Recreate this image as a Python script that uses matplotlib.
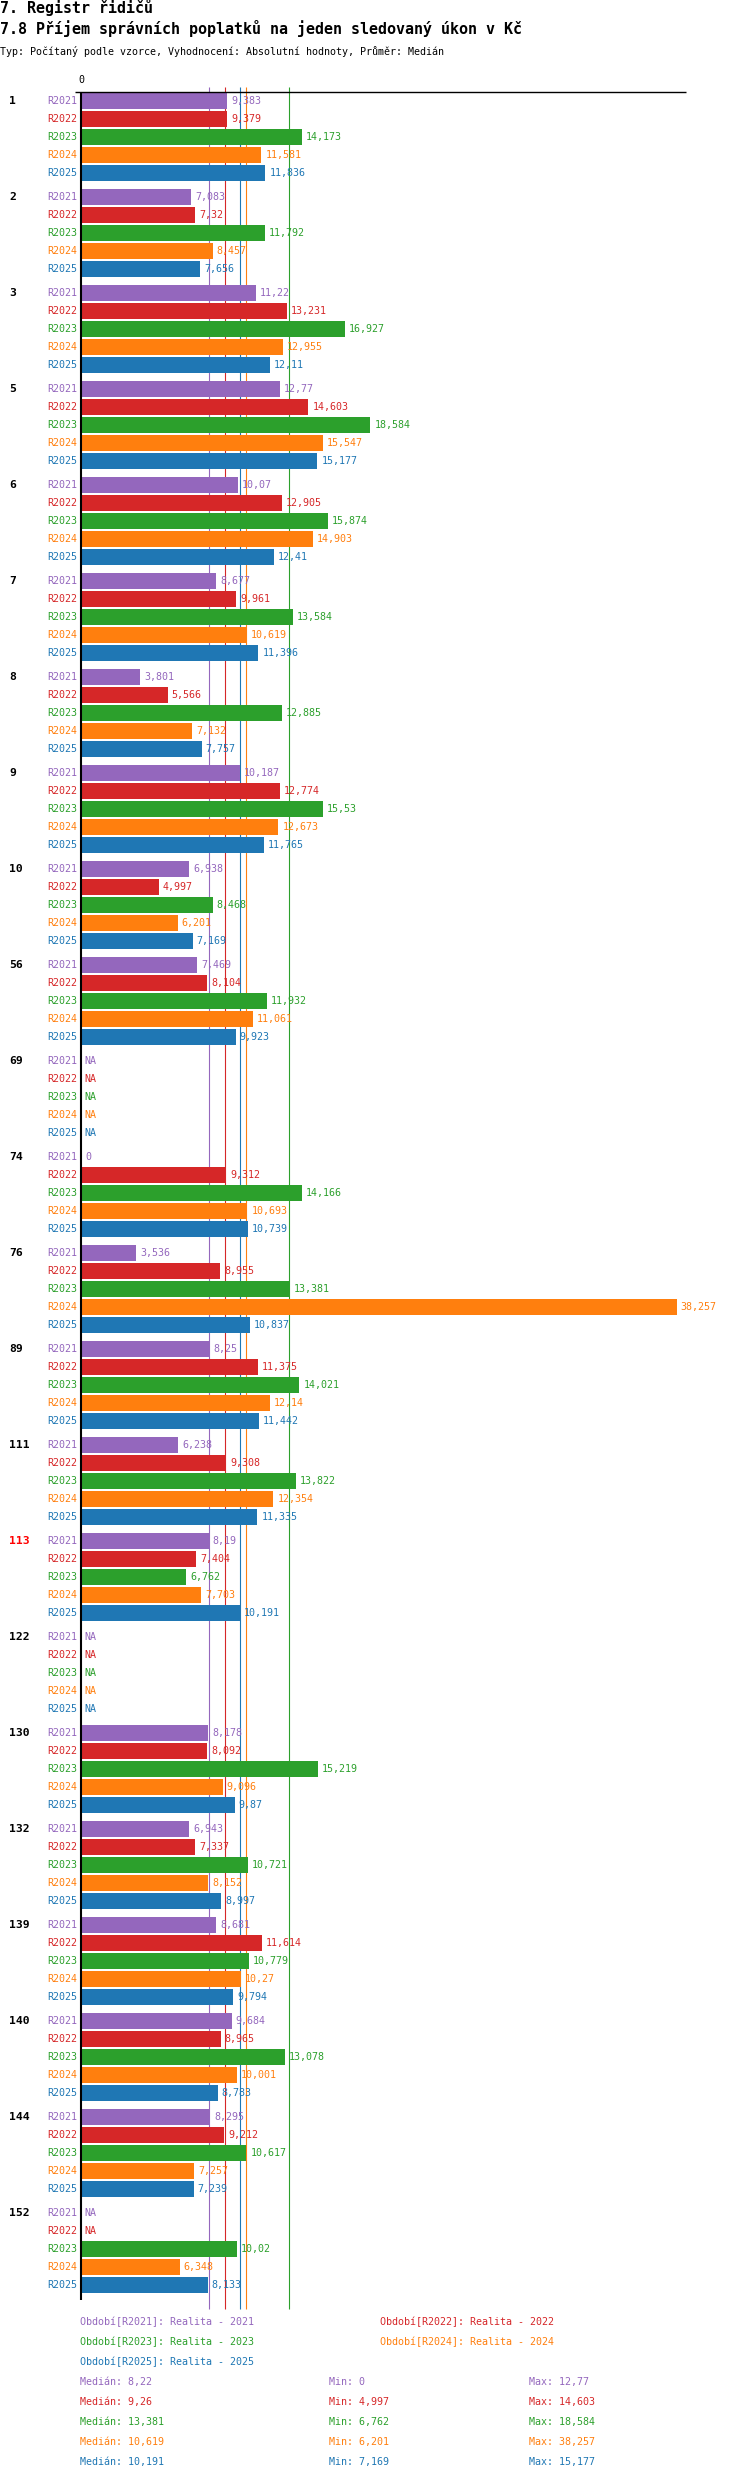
import matplotlib
matplotlib.use('Agg')
import matplotlib.pyplot as plt
import matplotlib.transforms as mtransforms
import numpy as np

# ---------------- data ----------------
categories = ['1', '2', '3', '5', '6', '7', '8', '9', '10', '56', '69', '74', '76',
              '89', '111', '113', '122', '130', '132', '139', '140', '144', '152']
highlight = '113'
series = ['R2021', 'R2022', 'R2023', 'R2024', 'R2025']
series_names = ['Realita - 2021', 'Realita - 2022', 'Realita - 2023',
                'Realita - 2024', 'Realita - 2025']
colors = ['#9467bd', '#d62728', '#2ca02c', '#ff7f0e', '#1f77b4']

r2021 = [9.383, 7.083, 11.22, 12.77, 10.07, 8.677, 3.801, 10.187, 6.938, 7.469, None,
         0, 3.536, 8.25, 6.238, 8.19, None, 8.178, 6.943, 8.681, 9.684, 8.295, None]
r2022 = [9.379, 7.32, 13.231, 14.603, 12.905, 9.961, 5.566, 12.774, 4.997, 8.104, None,
         9.312, 8.955, 11.375, 9.308, 7.404, None, 8.092, 7.337, 11.614, 8.965, 9.212, None]
r2023 = [14.173, 11.792, 16.927, 18.584, 15.874, 13.584, 12.885, 15.53, 8.468, 11.932, None,
         14.166, 13.381, 14.021, 13.822, 6.762, None, 15.219, 10.721, 10.779, 13.078, 10.617, 10.02]
r2024 = [11.581, 8.457, 12.955, 15.547, 14.903, 10.619, 7.132, 12.673, 6.201, 11.061, None,
         10.693, 38.257, 12.14, 12.354, 7.703, None, 9.096, 8.152, 10.27, 10.001, 7.257, 6.348]
r2025 = [11.836, 7.656, 12.11, 15.177, 12.41, 11.396, 7.757, 11.765, 7.169, 9.923, None,
         10.739, 10.837, 11.442, 11.335, 10.191, None, 9.87, 8.997, 9.794, 8.783, 7.239, 8.133]
values = [r2021, r2022, r2023, r2024, r2025]

title1 = '7. Registr řidičů'
title2 = '7.8 Příjem správních poplatků na jeden sledovaný úkon v Kč'
subtitle = 'Typ: Počítaný podle vzorce, Vyhodnocení: Absolutní hodnoty, Průměr: Medián'

# ---------------- layout ----------------
W, H = 750, 2480
FONT = 'DejaVu Sans Mono'
FS = 7.2          # ~10 px
FS_T = 10.8       # ~15 px
PX_PER_UNIT = 15.57
AX_L, AX_R, AX_T, AX_B = 75, 686, 92, 2300
ZERO = 81
GROUP_H, ROW_H, BAR_H = 96, 18, 16


def fmt(v):
    s = f"{round(v, 3):.3f}".rstrip('0').rstrip('.')
    return s.replace('.', ',')


def fy(p):
    return 1 - p / H


def fx(p):
    return p / W


fig = plt.figure(figsize=(W / 100, H / 100), dpi=100)
fig.patch.set_facecolor('white')

ax = fig.add_axes([fx(AX_L), fy(AX_B), fx(AX_R - AX_L), (AX_B - AX_T) / H])
ax.set_xlim(-(ZERO - AX_L) / PX_PER_UNIT, (AX_R - ZERO) / PX_PER_UNIT)
ax.set_ylim(AX_B - AX_T, 0)
ax.axis('off')

trans_axx = mtransforms.blended_transform_factory(ax.transAxes, ax.transData)


def ax_frac(px):
    return (px - AX_L) / (AX_R - AX_L)


# median lines
for s in range(len(series)):
    vals = np.array([v for v in values[s] if v is not None], dtype=float)
    med = np.median(vals)
    ax.vlines(med, -5, AX_B - AX_T + 9, color=colors[s], lw=0.8, zorder=1, clip_on=False)

# bars and labels
for g, cat in enumerate(categories):
    for s in range(len(series)):
        yc = 1 + g * GROUP_H + s * ROW_H + BAR_H / 2
        v = values[s][g]
        if v is not None:
            ax.barh(yc, v, height=BAR_H, color=colors[s], zorder=2)
            ax.annotate(fmt(v), (v, yc), xytext=(2.9, 0), textcoords='offset points',
                        ha='left', va='center', fontsize=FS, family=FONT,
                        color=colors[s], zorder=3, annotation_clip=False)
        else:
            ax.annotate('NA', (0, yc), xytext=(2.2, 0), textcoords='offset points',
                        ha='left', va='center', fontsize=FS, family=FONT,
                        color=colors[s], zorder=3, annotation_clip=False)
        ax.text(ax_frac(77), yc, series[s], transform=trans_axx, ha='right', va='center',
                fontsize=FS, family=FONT, color=colors[s], clip_on=False)
    yc0 = 1 + g * GROUP_H + BAR_H / 2
    ax.text(ax_frac(9), yc0, cat, transform=trans_axx, ha='left', va='center',
            fontsize=8.2, family=FONT, fontweight='bold',
            color='#ff0000' if cat == highlight else 'black', clip_on=False)

# axes lines
ax.vlines(0, 0, AX_B - AX_T, color='black', lw=1.5, zorder=4, clip_on=False)
ax.hlines(0, -(ZERO - AX_L) / PX_PER_UNIT, (AX_R - ZERO) / PX_PER_UNIT,
          color='black', lw=1.0, zorder=4, clip_on=False)
ax.text(0, -12, '0', ha='center', va='center', fontsize=FS, family=FONT, color='black')

# titles
fig.text(0, fy(12.5), title1, ha='left', va='baseline', fontsize=FS_T, family=FONT,
         fontweight='bold')
fig.text(0, fy(34), title2, ha='left', va='baseline', fontsize=FS_T, family=FONT,
         fontweight='bold')
fig.text(0, fy(55), subtitle, ha='left', va='baseline', fontsize=FS, family=FONT)

# legend
leg_pos = [(80, 2322), (380, 2322), (80, 2342), (380, 2342), (80, 2362)]
for s in range(len(series)):
    x, y = leg_pos[s]
    fig.text(fx(x), fy(y), f'Období[{series[s]}]: {series_names[s]}', ha='left',
             va='center', fontsize=FS, family=FONT, color=colors[s])

# statistics
for s in range(len(series)):
    vals = np.array([v for v in values[s] if v is not None], dtype=float)
    y = 2382 + s * 20
    fig.text(fx(80), fy(y), f'Medián: {fmt(np.median(vals))}', ha='left', va='center',
             fontsize=FS, family=FONT, color=colors[s])
    fig.text(fx(329), fy(y), f'Min: {fmt(vals.min())}', ha='left', va='center',
             fontsize=FS, family=FONT, color=colors[s])
    fig.text(fx(529), fy(y), f'Max: {fmt(vals.max())}', ha='left', va='center',
             fontsize=FS, family=FONT, color=colors[s])

fig.savefig('out.png', dpi=100, facecolor='white')
